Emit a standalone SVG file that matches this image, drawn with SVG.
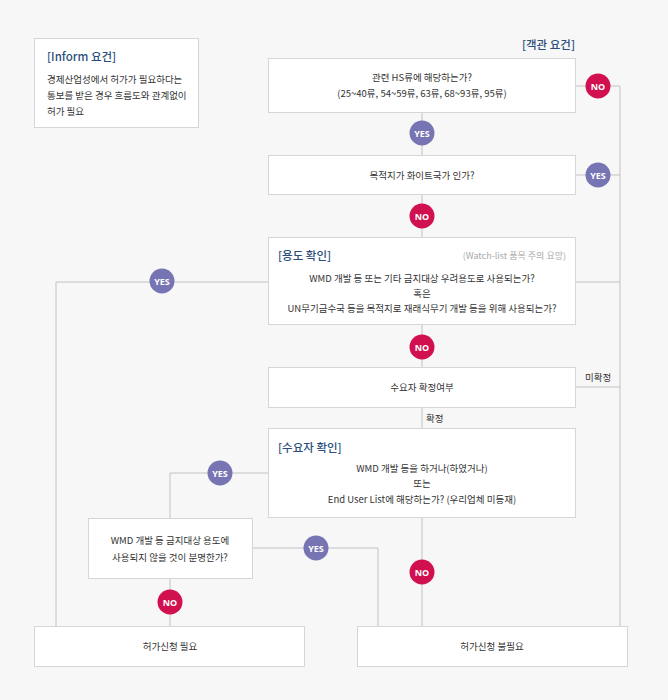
<svg xmlns="http://www.w3.org/2000/svg" width="668" height="700" viewBox="0 0 668 700">
<style>
.bg{fill:#f7f7f7}
.box{fill:#ffffff;stroke:#d6d6d6;stroke-width:1}
.ln{fill:none;stroke:#c2c2c2;stroke-width:1}
.t{font-family:"Noto Sans CJK KR","Noto Sans",sans-serif;font-size:9.5px;fill:#333;text-anchor:middle;dominant-baseline:central}
.tl{font-family:"Noto Sans CJK KR","Noto Sans",sans-serif;font-size:9.5px;fill:#333;dominant-baseline:central}
.h{font-family:"Noto Sans CJK KR","Noto Sans",sans-serif;font-size:11.5px;font-weight:500;fill:#2b4f7a;dominant-baseline:central}
.g{font-family:"Noto Sans CJK KR","Noto Sans",sans-serif;font-size:9px;fill:#aaa;text-anchor:end;dominant-baseline:central}
.no{fill:#d1104f}
.yes{fill:#7674b2}
.bt{font-family:"Noto Sans","Noto Sans CJK KR",sans-serif;font-size:9px;font-weight:bold;fill:#fff;text-anchor:middle;dominant-baseline:central}
</style>
<rect class="bg" x="0" y="0" width="668" height="700"/>
<g id="connectors">
<path class="ln" d="M576 86H620V626"/>
<path class="ln" d="M576 175H620"/>
<path class="ln" d="M576 282H620"/>
<path class="ln" d="M576 387H620"/>
<path class="ln" d="M422 112V155"/>
<path class="ln" d="M422 194V237"/>
<path class="ln" d="M422 324V367"/>
<path class="ln" d="M422 407V428"/>
<path class="ln" d="M422 517V626"/>
<path class="ln" d="M268 282H56V626"/>
<path class="ln" d="M268 473H170V518"/>
<path class="ln" d="M170 578V626"/>
<path class="ln" d="M252 548H378V626"/>
</g>
<g id="labels">
<g><circle class="no" cx="598" cy="86" r="12.5"/><text class="bt" x="598" y="86">NO</text></g>
<g><circle class="yes" cx="422" cy="133" r="12.5"/><text class="bt" x="422" y="133">YES</text></g>
<g><circle class="yes" cx="598" cy="175" r="12.5"/><text class="bt" x="598" y="175">YES</text></g>
<g><circle class="no" cx="422" cy="216" r="12.5"/><text class="bt" x="422" y="216">NO</text></g>
<g><circle class="yes" cx="162" cy="281" r="12.5"/><text class="bt" x="162" y="281">YES</text></g>
<g><circle class="no" cx="422" cy="347" r="12.5"/><text class="bt" x="422" y="347">NO</text></g>
<text class="tl" x="585" y="377">미확정</text>
<text class="tl" x="426" y="418">확정</text>
<g><circle class="yes" cx="220" cy="473" r="12.5"/><text class="bt" x="220" y="473">YES</text></g>
<g><circle class="yes" cx="316" cy="548" r="12.5"/><text class="bt" x="316" y="548">YES</text></g>
<g><circle class="no" cx="422" cy="572" r="12.5"/><text class="bt" x="422" y="572">NO</text></g>
<g><circle class="no" cx="170" cy="602" r="12.5"/><text class="bt" x="170" y="602">NO</text></g>
</g>
<g id="inform">
<rect class="box" x="34.5" y="38.5" width="164" height="89"/>
<text class="h" x="47" y="56">[Inform 요건]</text>
<text class="tl" x="47" y="79">경제산업성에서 허가가 필요하다는</text>
<text class="tl" x="47" y="95">통보를 받은 경우 흐름도와 관계없이</text>
<text class="tl" x="47" y="111">허가 필요</text>
</g>
<text id="objective-title" class="h" x="575" y="44" text-anchor="end">[객관 요건]</text>
<g id="hs">
<rect class="box" x="268.5" y="58.5" width="307" height="54"/>
<text class="t" x="422" y="77">관련 HS류에 해당하는가?</text>
<text class="t" x="422" y="93">(25~40류, 54~59류, 63류, 68~93류, 95류)</text>
</g>
<g id="white">
<rect class="box" x="268.5" y="155.5" width="307" height="39"/>
<text class="t" x="422" y="175">목적지가 화이트국가 인가?</text>
</g>
<g id="usage">
<rect class="box" x="268.5" y="237.5" width="307" height="87"/>
<text class="h" x="278" y="255">[용도 확인]</text>
<text class="g" x="566" y="255">(Watch-list 품목 주의 요망)</text>
<text class="t" x="422" y="278">WMD 개발 등  또는 기타 금지대상 우려용도로 사용되는가?</text>
<text class="t" x="422" y="293">혹은</text>
<text class="t" x="422" y="308">UN무기금수국 등을 목적지로 재래식무기 개발 등을 위해 사용되는가?</text>
</g>
<g id="confirm">
<rect class="box" x="268.5" y="367.5" width="307" height="40"/>
<text class="t" x="422" y="387">수요자 확정여부</text>
</g>
<g id="user">
<rect class="box" x="268.5" y="428.5" width="307" height="89"/>
<text class="h" x="278" y="447">[수요자 확인]</text>
<text class="t" x="422" y="468">WMD 개발 등을 하거나(하였거나)</text>
<text class="t" x="422" y="483">또는</text>
<text class="t" x="422" y="499">End User List에 해당하는가? (우리업체 미등재)</text>
</g>
<g id="clear">
<rect class="box" x="88.5" y="518.5" width="164" height="60"/>
<text class="t" x="170" y="540">WMD 개발 등 금지대상 용도에</text>
<text class="t" x="170" y="557">사용되지 않을 것이 분명한가?</text>
</g>
<g id="required">
<rect class="box" x="34.5" y="626.5" width="270" height="40"/>
<text class="t" x="170" y="646">허가신청 필요</text>
</g>
<g id="notrequired">
<rect class="box" x="357.5" y="626.5" width="270" height="40"/>
<text class="t" x="492" y="646">허가신청 불필요</text>
</g>
</svg>
